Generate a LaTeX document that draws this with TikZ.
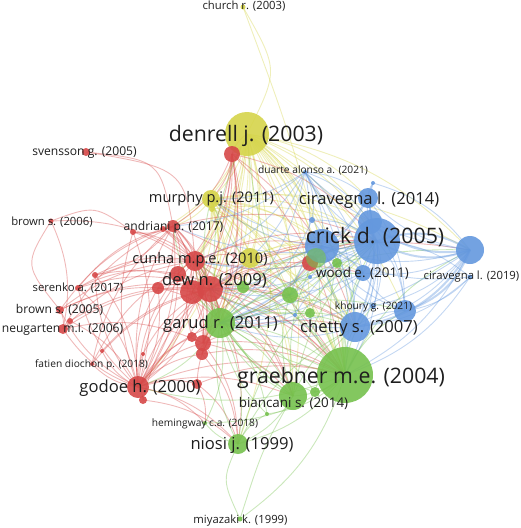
\documentclass[tikz,border=0pt]{standalone}
\usepackage{fontspec}
\setmainfont{Open Sans}
\usetikzlibrary{backgrounds}
\definecolor{vyel}{RGB}{213,212,74}
\definecolor{vred}{RGB}{214,72,72}
\definecolor{vgrn}{RGB}{118,193,78}
\definecolor{vblu}{RGB}{100,152,222}
\definecolor{vtxt}{RGB}{30,30,30}
\tikzset{
  nd/.style={circle, inner sep=0pt, draw=none, fill opacity=0.9},
  yn/.style={nd, fill=vyel, minimum size=#1},
  rn/.style={nd, fill=vred, minimum size=#1},
  gn/.style={nd, fill=vgrn, minimum size=#1},
  bn/.style={nd, fill=vblu, minimum size=#1},
  edg/.style={line width=0.9pt, draw opacity=0.38},
  ye/.style={edg, draw=vyel},
  re/.style={edg, draw=vred},
  ge/.style={edg, draw=vgrn},
  be/.style={edg, draw=vblu},
  bethick/.style={edg, draw=vblu, line width=2pt, draw opacity=0.4},
  lab/.style={anchor=base, text=vtxt, inner sep=0pt},
  fxl/.style={lab, font=\fontsize{21.3}{24}\selectfont},
  fl/.style={lab, font=\fontsize{16.6}{19}\selectfont},
  fm/.style={lab, font=\fontsize{14.6}{17}\selectfont},
  fmm/.style={lab, font=\fontsize{13.4}{16}\selectfont},
  fs/.style={lab, font=\fontsize{12.1}{14}\selectfont},
  fss/.style={lab, font=\fontsize{11.3}{13}\selectfont},
  fxs/.style={lab, font=\fontsize{10.2}{12}\selectfont},
}
\begin{document}
\begin{tikzpicture}[x=1pt,y=-1pt]
\useasboundingbox (0,0) rectangle (520,528);
% ---------- nodes ----------
% yellow
\node[yn=5] (ch) at (243,7) {};
\node[yn=44] (de) at (247,134) {};
\node[yn=18] (mu) at (211,199) {};
\node[yn=6] (muB) at (212,209) {};
\node[yn=20] (yC) at (250,258) {};
% red
\node[rn=16] (deR) at (232,154) {};
\node[rn=8] (sv) at (86,152) {};
\node[rn=12] (an) at (173,226) {};
\node[rn=6] (anA) at (133,232) {};
\node[rn=6] (anB) at (163,229) {};
\node[rn=5] (bsx) at (51,221) {};
\node[rn=20] (cu) at (195,261) {};
\node[rn=26] (dw) at (210,289) {};
\node[rn=24] (dwB) at (192,292) {};
\node[rn=16] (dwC) at (178,274) {};
\node[rn=12] (dwD) at (158,288) {};
\node[rn=16] (gA) at (203,343) {};
\node[rn=12] (gB) at (202,354) {};
\node[rn=10] (gC) at (192,337) {};
\node[rn=22] (go) at (138,387) {};
\node[rn=8] (goB) at (143,400) {};
\node[rn=10] (goC) at (197,384) {};
\node[rn=4] (fd) at (92,364) {};
\node[rn=6] (se) at (78,288) {};
\node[rn=8] (bs) at (60,310) {};
\node[rn=6] (bsB) at (70,321) {};
\node[rn=10] (ne) at (63,329) {};
\node[rn=6] (rA) at (95,275) {};
\node[rn=4] (rB) at (143,354) {};
\node[rn=4] (rC) at (102,351) {};
\node[rn=16] (rw) at (310,263) {};
% blue
\node[bn=46] (cr) at (377,241) {};
\node[bn=34] (crB) at (322,246) {};
\node[bn=20] (ciA) at (368,198) {};
\node[bn=24] (ciB) at (370,222) {};
\node[bn=4] (ciC) at (373,183) {};
\node[bn=4] (du) at (305,172) {};
\node[bn=5] (cn) at (470,277) {};
\node[bn=28] (cbig) at (470,250) {};
\node[bn=16] (wo) at (363,273) {};
\node[bn=30] (ch7) at (355,327) {};
\node[bn=22] (bl) at (405,311) {};
\node[bn=6] (kh) at (373,306) {};
\node[bn=4] (bA) at (310,277) {};
\node[bn=6] (bB) at (312,220) {};
\node[bn=4] (bC) at (295,315) {};
% green
\node[gn=30] (ga) at (220,323) {};
\node[gn=56] (gr) at (345,375) {};
\node[gn=28] (bi) at (293,396) {};
\node[gn=10] (biB) at (315,392) {};
\node[gn=20] (ni) at (238,444) {};
\node[gn=5] (mi) at (240,519) {};
\node[gn=4] (he) at (205,423) {};
\node[gn=4] (heB) at (267,414) {};
\node[gn=16] (gX) at (290,295) {};
\node[gn=10] (gY) at (310,313) {};
\node[gn=12] (gZ) at (243,287) {};
\node[gn=10] (gW) at (337,263) {};
\node[gn=20, fill opacity=0.6] (gV) at (316,258) {};
% ---------- edges ----------
\begin{pgfonlayer}{background}
% key long curves with explicit shape
\draw[ye] (ch.center) .. controls (279,70) .. (de.center);
\draw[ye] (ch.center) .. controls (285,120) .. (crB.center);
\draw[re] (sv.center) .. controls (187,169) .. (cu.center);
\draw[re] (sv.center) .. controls (160,160) .. (an.center);
\draw[re] (bsx.center) .. controls (24,265) .. (bs.center);
\draw[re] (bsx.center) .. controls (95,205) .. (anA.center);
\draw[ge] (mi.center) .. controls (222,480) .. (ni.center);
\draw[ge] (mi.center) .. controls (262,450) .. (bi.center);
\foreach \a/\b in {de/mu, de/yC, de/cu, de/dw, de/ga, de/cr, de/crB, de/gr, de/ch7, de/wo, de/an, de/gX, de/gZ, de/dwB, de/dwC, de/bi, de/gA, de/ciA, de/bB, de/rw, de/gW, de/gV, de/deR, de/cbig, de/ciB, de/ni, de/go, de/anB, de/gY, de/bl, mu/yC, mu/cu, mu/dw, mu/ga, mu/cr, mu/crB, mu/gr, mu/ch7, mu/an, mu/dwB, mu/gX, mu/gZ, mu/wo, mu/bi, mu/gA, mu/ciB, mu/gY, mu/rw, mu/cbig, yC/cr, yC/crB, yC/ga, yC/gr, yC/ch7, yC/dw, yC/gX, yC/bi, yC/wo, muB/dw, muB/ga, muB/cr, muB/gr, muB/cu, muB/ch7}
  \draw[ye] (\a.center) to[bend left=18] (\b.center);
\foreach \a/\b in {deR/de, deR/mu, deR/cu, deR/dw, deR/dwB, deR/ga, deR/an, deR/gA, deR/go, deR/cr, deR/dwC, deR/gr, deR/ch7, deR/gB, bsx/ne, bsx/cu, an/cu, an/dw, an/dwB, an/dwC, an/ga, an/gA, an/go, an/cr, an/anA, an/anB, an/rA, an/gr, an/dwD, anA/dw, anA/cu, anA/go, anB/dw, anB/cu, anB/ga, cu/dw, cu/dwB, cu/ga, cu/gA, cu/go, cu/cr, cu/crB, cu/gr, cu/ch7, cu/yC, cu/bi, cu/gB, dw/dwB, dw/ga, dw/gA, dw/gB, dw/go, dw/cr, dw/crB, dw/gr, dw/ch7, dw/bi, dw/ni, dw/rw, dw/wo, dw/gX, dw/cbig, dwB/go, dwB/gA, dwB/ga, dwB/cr, dwB/gr, dwB/ch7, dwB/bi, dwC/go, dwC/ga, dwC/gr, dwC/gA, dwD/go, dwD/dw, dwD/ga, go/dw, go/cu, go/ga, go/gA, go/gB, go/gC, go/goC, go/fd, go/rB, go/rC, go/ne, go/bs, go/se, go/gr, go/ni, go/he, go/goB, go/an, go/anA, go/dwC, go/dwD, go/rA, go/bi, se/dw, se/cu, se/dwC, se/an, se/go, bs/dw, bs/cu, bs/ne, bs/an, bs/dwB, bsB/dw, bsB/go, ne/dw, ne/gA, ne/an, ne/cu, fd/dw, fd/an, fd/cu, rA/dw, rA/go, rA/cu, rB/dw, rC/dw, goB/dw, goB/ni, rw/cr, rw/crB, rw/ga, gA/ga, gA/gr, gA/ch7, gA/ni, gA/bi, goC/ni, goC/gr, goC/ga, goC/he, gB/gr, gB/ni, gC/cr, gC/cu}
  \draw[re] (\a.center) to[bend left=18] (\b.center);
\foreach \a/\b in {ga/gr, ga/bi, ga/ni, ga/ch7, ga/cr, ga/crB, ga/gX, ga/gY, ga/gZ, ga/he, ga/dw, ga/cu, ga/mu, ga/de, ga/heB, ga/biB, ga/wo, ga/an, ga/go, ga/cbig, ga/bl, gr/bi, gr/ni, gr/ch7, gr/cr, gr/crB, gr/gX, gr/gY, gr/bl, gr/mi, gr/biB, gr/wo, gr/gW, gr/heB, gr/de, gr/cu, gr/dwB, gr/he, gr/go, gr/cbig, gr/kh, bi/ni, bi/ch7, bi/cr, bi/gX, bi/dw, bi/crB, bi/ga, bi/cu, ni/ga, ni/he, ni/heB, ni/cr, ni/ch7, gX/cr, gX/crB, gX/ch7, gX/cu, gX/mu, gY/cr, gY/ch7, gY/ga, gY/dw, gZ/dw, gZ/gr, gZ/cr, gV/cr, gV/gr, gV/ga, gW/ch7, gW/ga, biB/ch7, biB/ga, heB/ga}
  \draw[ge] (\a.center) to[bend left=18] (\b.center);
\foreach \a/\b in {cr/crB, cr/ciA, cr/ciB, cr/ch7, cr/wo, cr/bl, cr/gr, cr/ga, cr/kh, cr/cn, cr/du, cr/ciC, cr/dw, cr/cu, cr/mu, cr/an, cbig/crB, cbig/ciA, cbig/ch7, cbig/wo, cbig/kh, cbig/gr, cbig/du, cbig/ga, cn/ch7, cn/bl, cn/crB, cn/gr, du/crB, du/ciA, du/ciB, du/ch7, du/wo, du/ga, du/gX, du/dw, du/bB, du/mu, du/cu, du/an, du/gr, ciA/crB, ciA/ch7, ciA/wo, ciA/bl, ciA/gr, ciA/ciC, ciA/ga, ch7/crB, ch7/bl, ch7/wo, ch7/kh, ch7/ga, ch7/dw, crB/ga, crB/dw, crB/cu, crB/wo, crB/mu, bl/wo, bl/crB, bB/cr, bB/ch7, bB/ga, ciC/cbig, ciC/crB, bA/cr, bA/ga, bC/cr, bC/ga, kh/crB, ciB/ch7, ciB/bl, ciB/ga, wo/ga, wo/dw}
  \draw[be] (\a.center) to[bend left=18] (\b.center);
\foreach \a/\b in {cr/cbig, cbig/ciB, cbig/bl, cbig/ch7, cbig/cr}
  \draw[bethick] (\a.center) to[bend left=25] (\b.center);
\end{pgfonlayer}
% ---------- labels ----------
\node[fss] (l-ch) at (244,9) {church r. (2003)};
\node[fxl] (l-de) at (246,141) {denrell j. (2003)};
\node[fs] (l-sv) at (84.5,155) {svensson g. (2005)};
\node[fxs] (l-du) at (313,173) {duarte alonso a. (2021)};
\node[fm] (l-mu) at (211.5,202) {murphy p.j. (2011)};
\node[fl] (l-ci) at (369,204) {ciravegna l. (2014)};
\node[fss] (l-bsx) at (52,225) {brown s. (2006)};
\node[fs] (l-an) at (173.5,230) {andriani p. (2017)};
\node[fxl] (l-cr) at (375,243) {crick d. (2005)};
\node[fm] (l-cu) at (200,263) {cunha m.p.e. (2010)};
\node[fss] (l-cn) at (471.5,279) {ciravegna l. (2019)};
\node[fmm] (l-wo) at (362.5,277) {wood e. (2011)};
\node[fl] (l-dw) at (214.5,285) {dew n. (2009)};
\node[fss] (l-se) at (78,291) {serenko a. (2017)};
\node[fxs] (l-kh) at (373.5,309) {khoury g. (2021)};
\node[fs] (l-bs) at (59.5,313) {brown s. (2005)};
\node[fl] (l-ga) at (220.5,328) {garud r. (2011)};
\node[fs] (l-ne) at (62.5,332) {neugarten m.l. (2006)};
\node[fl] (l-ch7) at (359,332) {chetty s. (2007)};
\node[fxs] (l-fd) at (91.5,367) {fatien diochon p. (2018)};
\node[fxl] (l-gr) at (341,383) {graebner m.e. (2004)};
\node[fl] (l-go) at (140,392) {godoe h. (2000)};
\node[fmm] (l-bi) at (293.5,407) {biancani s. (2014)};
\node[fxs] (l-he) at (205,426) {hemingway c.a. (2018)};
\node[fl] (l-ni) at (242,449) {niosi j. (1999)};
\node[fss] (l-mi) at (240.5,523) {miyazaki k. (1999)};
\end{tikzpicture}
\end{document}
